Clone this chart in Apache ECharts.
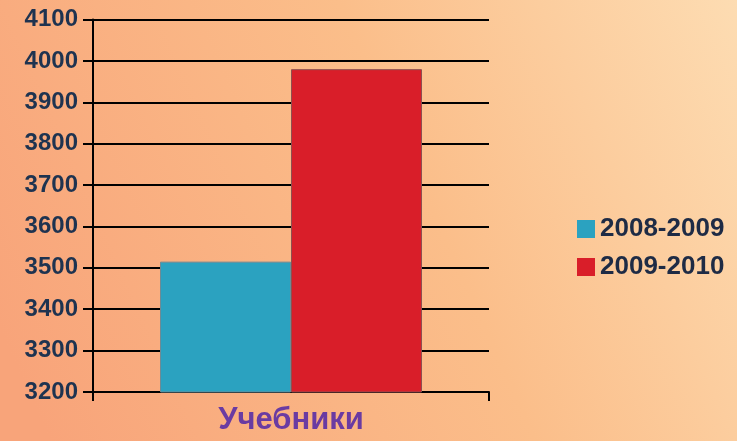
<!DOCTYPE html>
<html><head><meta charset="utf-8">
<script src="https://cdn.jsdelivr.net/npm/echarts@6/dist/echarts.min.js"></script>
<style>html,body{margin:0;padding:0;}#c{width:737px;height:441px;}</style>
</head><body><div id="c"></div>
<script>
const categories = ['Учебники'];
const seriesNames = ['2008-2009', '2009-2010'];
const values2008 = [3515];
const values2009 = [3980];
const yTicks = [3200, 3300, 3400, 3500, 3600, 3700, 3800, 3900, 4000, 4100];

const chart = echarts.init(document.getElementById('c'));
const labelFont = 'Liberation Sans, Arial, sans-serif';
chart.setOption({
  animation: false,
  backgroundColor: {
    type: 'linear', x: 0, y: 0.75, x2: 1, y2: 0,
    colorStops: [
      {offset: 0, color: '#F8A47A'},
      {offset: 0.55, color: '#FBBE8A'},
      {offset: 1, color: '#FDDCB2'}
    ]
  },
  grid: {left: 93, right: 248, top: 19.5, bottom: 49, containLabel: false},
  legend: {
    orient: 'vertical', left: 572, top: 211,
    itemWidth: 18, itemHeight: 18, itemGap: 12,
    icon: 'rect',
    itemStyle: {borderWidth: 0},
    textStyle: {color: '#1E2B45', fontSize: 26, fontWeight: 'bold', fontFamily: labelFont},
    data: seriesNames
  },
  xAxis: {
    type: 'category', data: categories,
    axisLine: {show: true, lineStyle: {color: '#000', width: 2}},
    axisTick: {show: true, length: 9, lineStyle: {color: '#000', width: 2}},
    axisLabel: {color: '#6A3BA2', fontSize: 31, fontWeight: 'bold', fontFamily: labelFont, margin: 13},
    splitLine: {show: false}
  },
  yAxis: {
    type: 'value', min: yTicks[0], max: yTicks[yTicks.length - 1], interval: 100,
    axisLine: {show: true, lineStyle: {color: '#000', width: 2}},
    axisTick: {show: true, length: 10, lineStyle: {color: '#000', width: 2}},
    axisLabel: {color: '#1E3350', fontSize: 24, fontWeight: 'bold', fontFamily: labelFont, margin: 15,
      formatter: function (v) { return String(v); }},
    splitLine: {show: true, lineStyle: {color: '#000', width: 2}}
  },
  series: [
    {name: seriesNames[0], type: 'bar', data: values2008, barWidth: 131, barGap: '0%',
     itemStyle: {color: '#2BA2C0', borderColor: '#6E8A95', borderWidth: 1}},
    {name: seriesNames[1], type: 'bar', data: values2009, barWidth: 131, barGap: '0%',
     itemStyle: {color: '#D91E29', borderColor: '#8E5050', borderWidth: 1}}
  ]
});
</script>
</body></html>
